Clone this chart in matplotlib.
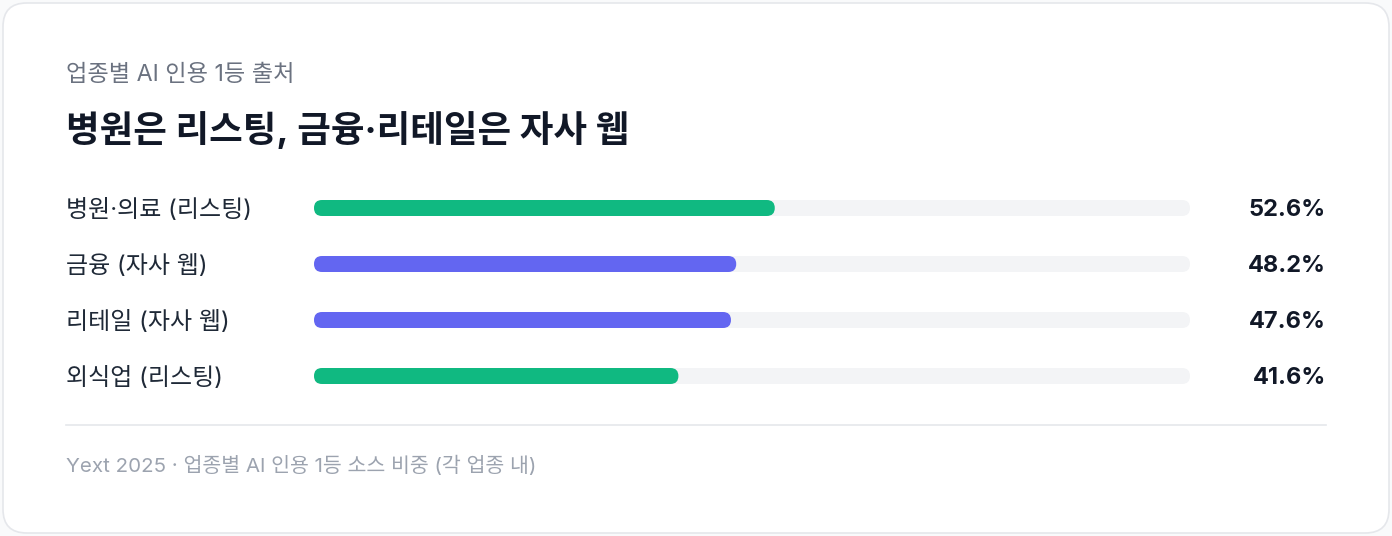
import matplotlib
matplotlib.use("Agg")
import matplotlib.pyplot as plt
from matplotlib.patches import FancyBboxPatch
from matplotlib.transforms import blended_transform_factory, offset_copy

plt.rcParams['font.family'] = ['Inter', 'Noto Sans CJK KR', 'DejaVu Sans']

categories = ['병원·의료 (리스팅)', '금융 (자사 웹)', '리테일 (자사 웹)', '외식업 (리스팅)']
values = [52.6, 48.2, 47.6, 41.6]
kinds = ['listing', 'web', 'web', 'listing']
colors = {'listing': '#10b981', 'web': '#6366f1'}

subtitle = '업종별 AI 인용 1등 출처'
title = '병원은 리스팅, 금융·리테일은 자사 웹'
source = 'Yext 2025 · 업종별 AI 인용 1등 소스 비중 (각 업종 내)'

W, H = 1392, 536
fig = plt.figure(figsize=(W / 100, H / 100), dpi=100)
fig.patch.set_facecolor('#f9fafb')


def fx(px):
    return px / W


def fy(py):
    return 1 - py / H


# card behind everything
card = FancyBboxPatch((fx(3), fy(533)), fx(1386), 1 - (3 + 3) / H,
                      boxstyle="round,pad=0,rounding_size=0.017",
                      transform=fig.transFigure, facecolor='white',
                      edgecolor='#e5e7eb', linewidth=1.2,
                      mutation_aspect=W / H, zorder=-10)
fig.patches.append(card)

fig.text(fx(66), fy(75), subtitle, fontsize=16.7, color='#6b7280',
         ha='left', va='center')
fig.text(fx(66), fy(130), title, fontsize=26.3, fontweight='bold',
         color='#111827', ha='left', va='center')

# bars
ax_w, ax_h = 876, 224
ax = fig.add_axes([fx(314), fy(404), fx(ax_w), ax_h / H])
ax.set_zorder(5)
ax.patch.set_visible(False)
ax.set_xlim(0, 100)
ax.set_ylim(len(categories) - 0.5, -0.5)
ax.axis('off')

bar_h = 16 / (ax_h / len(categories))
track = ax.barh(range(len(categories)), [100] * len(categories), height=bar_h,
                color='#f3f4f6')
fill = ax.barh(range(len(categories)), values, height=bar_h,
               color=[colors[k] for k in kinds])

# swap the square bars for rounded ones
r = 8 * 100 / ax_w
aspect = (len(categories) / ax_h) / (100 / ax_w)
for rect in list(track) + list(fill):
    rect.set_visible(False)
    ax.add_patch(FancyBboxPatch((rect.get_x(), rect.get_y()),
                                rect.get_width(), rect.get_height(),
                                boxstyle=f"round,pad=0,rounding_size={r}",
                                mutation_aspect=aspect,
                                facecolor=rect.get_facecolor(),
                                edgecolor='none', clip_on=False))

tr = blended_transform_factory(fig.transFigure, ax.transData)
tr = offset_copy(tr, fig=fig, y=-2, units='dots')
for i, (c, v) in enumerate(zip(categories, values)):
    ax.text(fx(66), i, c, transform=tr, fontsize=17.3, color='#1f2937',
            ha='left', va='center', clip_on=False)
    ax.text(fx(1326), i, f'{v:.1f}%', transform=tr, fontsize=17,
            fontweight='bold', color='#111827', ha='right', va='center',
            clip_on=False)

fig.add_artist(plt.Line2D([fx(66), fx(1326)], [fy(425), fy(425)],
                          transform=fig.transFigure, color='#e5e7eb', lw=1.2))
fig.text(fx(66), fy(466), source, fontsize=14.8, color='#9ca3af',
         ha='left', va='center')

fig.savefig('out.png', dpi=100, facecolor=fig.get_facecolor())
